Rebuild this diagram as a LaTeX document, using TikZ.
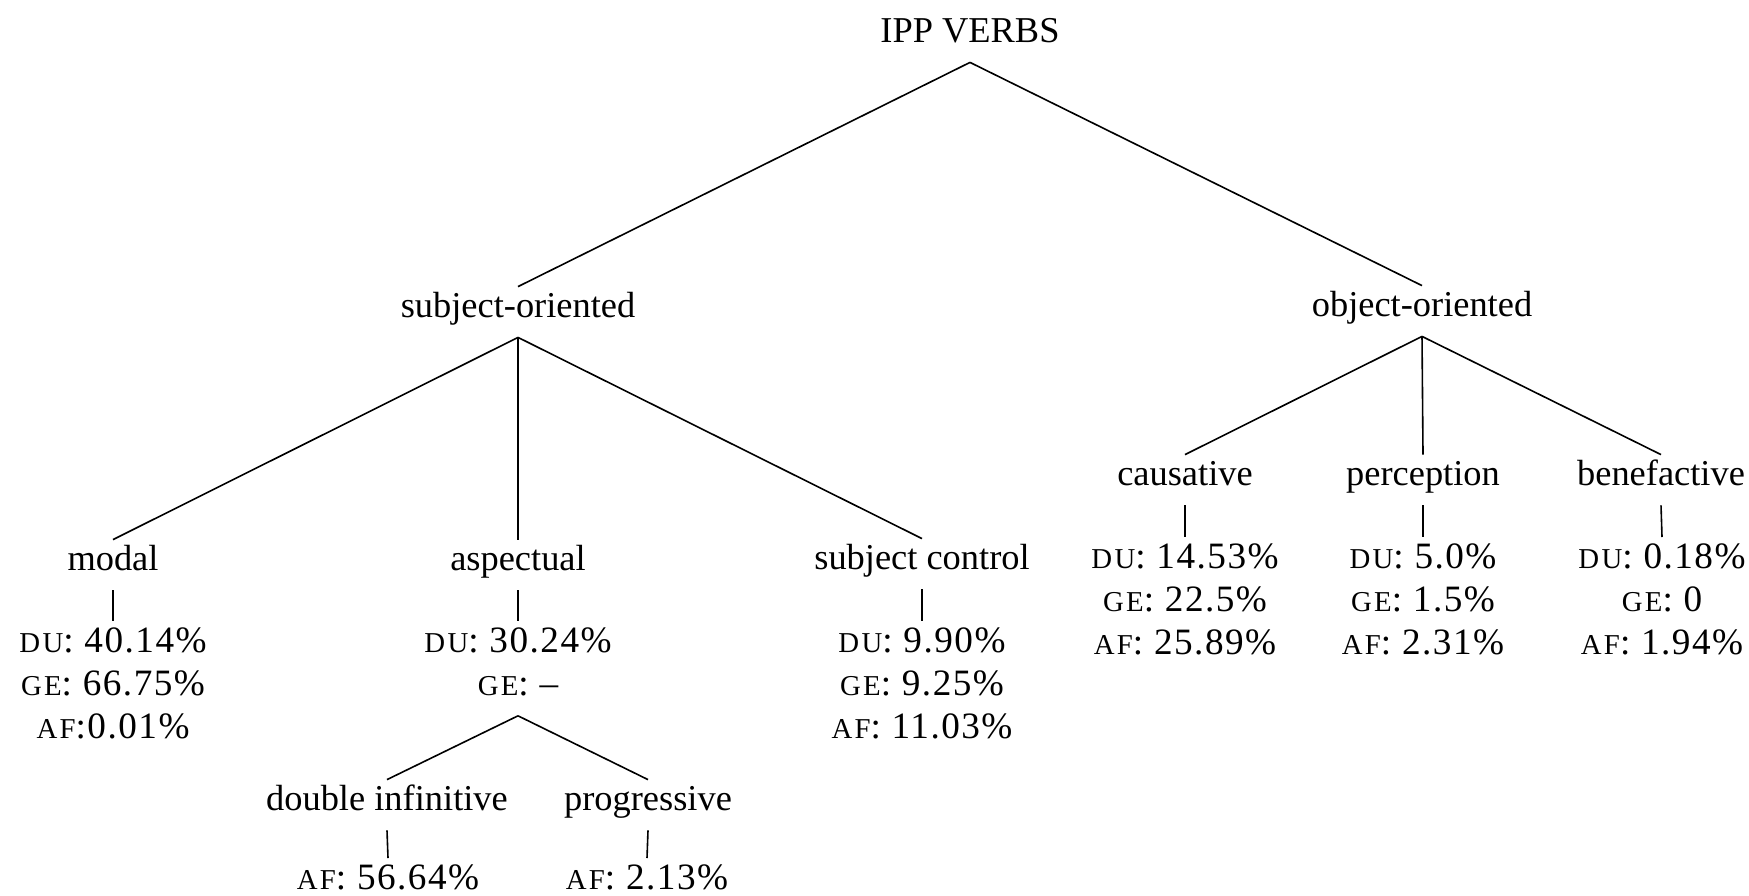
\documentclass[tikz,border=0pt]{standalone}
\usepackage{fontspec}
\setmainfont{Liberation Serif}
\newcommand\lblfont{\fontsize{18.2}{21.5}\selectfont}
\newcommand\stkfont{\fontsize{18.6}{21.5}\selectfont\addfontfeature{LetterSpace=4}}
\newcommand\smc[1]{{\fontsize{14.4}{21.5}\selectfont\addfontfeature{LetterSpace=8}#1}}
\tikzset{
  lbl/.style={font=\lblfont, text height=13pt, text depth=8pt, inner ysep=2pt, inner xsep=0pt, anchor=base},
  stack/.style={font=\stkfont, align=center, inner sep=0.5pt, anchor=north},
  edge/.style={line width=0.8pt}
}
\begin{document}
\begin{tikzpicture}[x=0.5pt,y=-0.5pt]
\useasboundingbox (0,0) rectangle (1749,895);
% top levels
\node[lbl] (ipp) at (970,42) {IPP VERBS};
\node[lbl] (so) at (518,317) {subject-oriented};
\node[lbl] (oo) at (1422,316) {object-oriented};
% subject-oriented children
\node[lbl] (modal) at (113,570) {modal};
\node[lbl] (asp) at (518,570) {aspectual};
\node[lbl] (sc) at (922,569) {subject control};
\node[stack] (modalS) at (113,621) {\smc{DU}: 40.14\%\strut\\ \smc{GE}: 66.75\%\strut\\ \smc{AF}:0.01\%\strut};
\node[stack] (aspS) at (518,621) {\smc{DU}: 30.24\%\strut\\ \smc{GE}: \textendash\strut};
\node[stack] (scS) at (922,621) {\smc{DU}: 9.90\%\strut\\ \smc{GE}: 9.25\%\strut\\ \smc{AF}: 11.03\%\strut};
\coordinate (aspA) at ([yshift=-3pt]aspS.south);
\node[lbl] (dinf) at (387,810) {double infinitive};
\node[lbl] (prog) at (648,810) {progressive};
\node[stack] (dinfS) at (388,858) {\smc{AF}: 56.64\%\strut};
\node[stack] (progS) at (647,858) {\smc{AF}: 2.13\%\strut};
% object-oriented children
\node[lbl] (caus) at (1185,485) {causative};
\node[lbl] (perc) at (1423,485) {perception};
\node[lbl] (bene) at (1661,485) {benefactive};
\node[stack] (causS) at (1185,537) {\smc{DU}: 14.53\%\strut\\ \smc{GE}: 22.5\%\strut\\ \smc{AF}: 25.89\%\strut};
\node[stack] (percS) at (1423,537) {\smc{DU}: 5.0\%\strut\\ \smc{GE}: 1.5\%\strut\\ \smc{AF}: 2.31\%\strut};
\node[stack] (beneS) at (1662,537) {\smc{DU}: 0.18\%\strut\\ \smc{GE}: 0\strut\\ \smc{AF}: 1.94\%\strut};
% edges
\draw[edge] (ipp.south) -- (so.north);
\draw[edge] (ipp.south) -- (oo.north);
\draw[edge] (so.south) -- (modal.north);
\draw[edge] (so.south) -- (asp.north);
\draw[edge] (so.south) -- (sc.north);
\draw[edge] (modal.south) -- (modalS.north);
\draw[edge] (asp.south) -- (aspS.north);
\draw[edge] (sc.south) -- (scS.north);
\draw[edge] (aspA) -- (dinf.north);
\draw[edge] (aspA) -- (prog.north);
\draw[edge] (dinf.south) -- (dinfS.north);
\draw[edge] (prog.south) -- (progS.north);
\draw[edge] (oo.south) -- (caus.north);
\draw[edge] (oo.south) -- (perc.north);
\draw[edge] (oo.south) -- (bene.north);
\draw[edge] (caus.south) -- (causS.north);
\draw[edge] (perc.south) -- (percS.north);
\draw[edge] (bene.south) -- (beneS.north);
\end{tikzpicture}
\end{document}
